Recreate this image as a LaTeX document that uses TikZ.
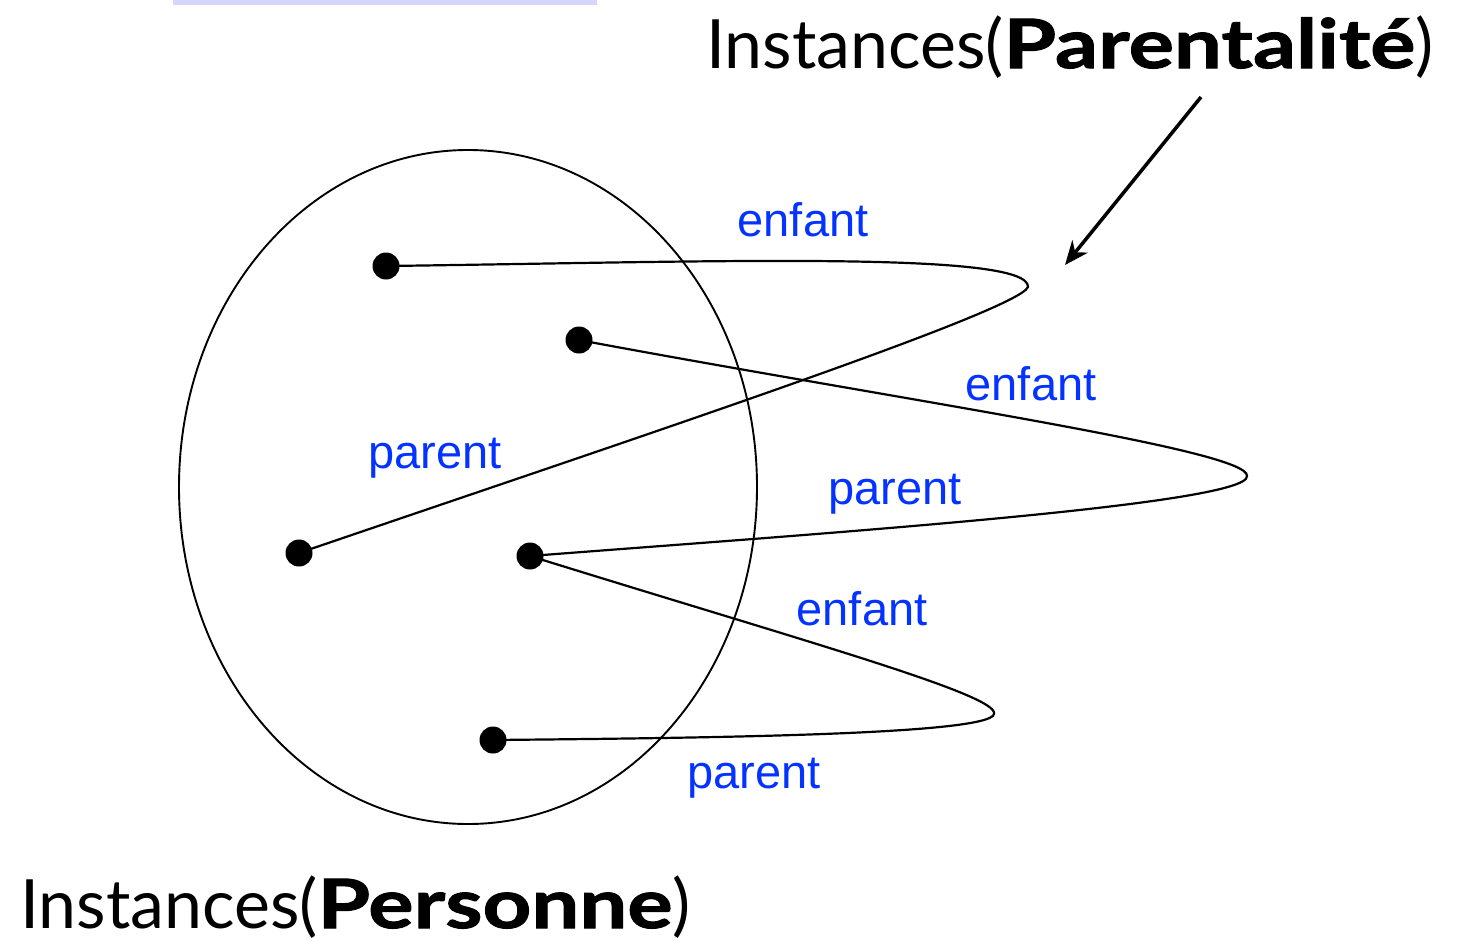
\documentclass[tikz,border=0pt]{standalone}
\usepackage{fontspec}
\setmainfont{Lato}
\newfontfamily\heavy{Lato}[FakeStretch=1.25, FakeBold=1.5]
\newfontfamily\helv{Liberation Sans}
\usetikzlibrary{shapes.geometric,arrows.meta}
\definecolor{lblblue}{RGB}{4,51,255}
\definecolor{barlav}{RGB}{212,214,252}
\tikzset{
  dot/.style={circle, fill=black, minimum size=27pt, inner sep=0pt},
  rel/.style={line width=2.2pt, black},
  lbl/.style={text=lblblue, font=\helv\fontsize{47}{47}\selectfont, inner sep=0pt, anchor=base},
  ttl/.style={font=\fontsize{68}{68}\selectfont, inner sep=0pt, anchor=base west}
}
\begin{document}
\begin{tikzpicture}[x=1pt,y=-1pt]
\useasboundingbox (0,0) rectangle (1482,940);
\fill[barlav] (173,0) rectangle (597,5);
\node[draw, ellipse, line width=1.9pt, minimum width=578pt, minimum height=674pt, inner sep=0pt] (set) at (468,487) {};
\node[dot] (d1) at (386,266) {};
\node[dot] (d2) at (579,340) {};
\node[dot] (d3) at (299,553) {};
\node[dot] (d4) at (530,556) {};
\node[dot] (d5) at (493,740) {};
% relation 1
\draw[rel] (d1.center) .. controls (700,262) and (1030,250) .. (1028,287)
  .. controls (1018,312) and (600,450) .. (d3.center);
% relation 2
\draw[rel] (d2.center) .. controls (900,400) and (1250,450) .. (1247,476)
  .. controls (1250,505) and (800,535) .. (d4.center);
% relation 3
\draw[rel] (d4.center) .. controls (800,640) and (1000,695) .. (994,714)
  .. controls (990,735) and (700,738) .. (d5.center);
\node[lbl] (e1) at (803,236) {enfant};
\node[lbl] (p1) at (435,468) {parent};
\node[lbl] (e2) at (1031,400) {enfant};
\node[lbl] (p2) at (895,504) {parent};
\node[lbl] (e3) at (862,625) {enfant};
\node[lbl] (p3) at (754,788) {parent};
\node[ttl] (t1) at (706,68) {Instances({\heavy\bfseries Parentalité})};
\node[ttl] (t2) at (20,928) {Instances({\heavy\bfseries Personne})};
\coordinate (as) at (1201,97);
\coordinate (ae) at (1065,265);
\draw[line width=3.5pt, -{Stealth[length=24pt,width=20pt]}] (as) -- (ae);
\end{tikzpicture}
\end{document}
